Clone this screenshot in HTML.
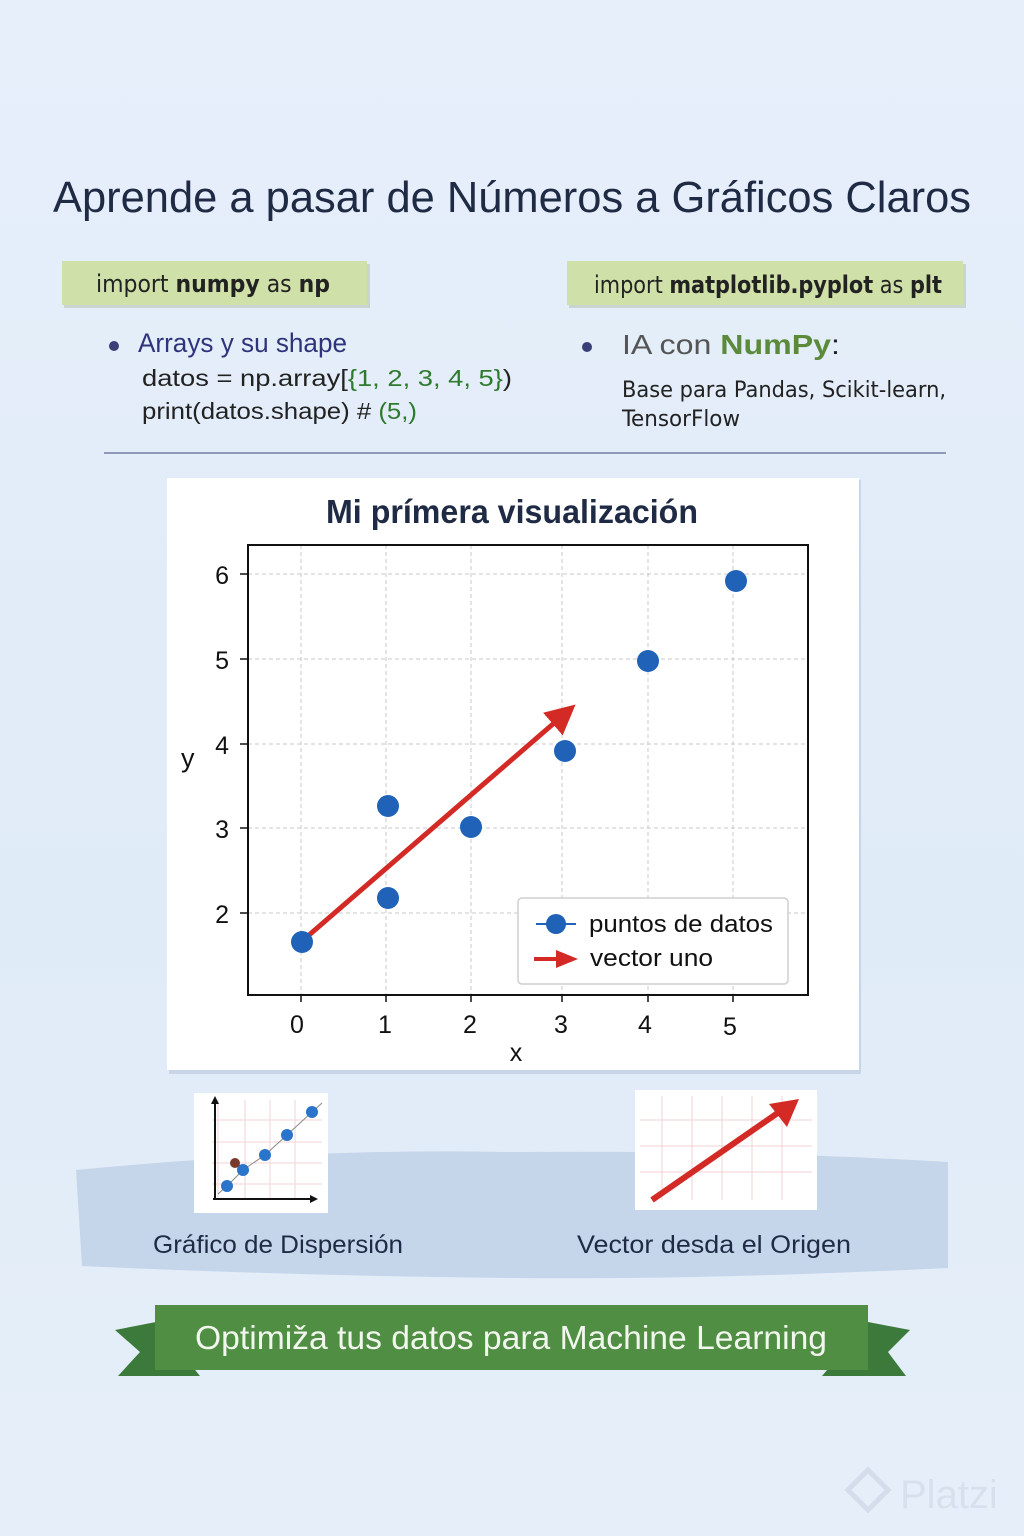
<!DOCTYPE html>
<html><head><meta charset="utf-8"><style>
html,body{margin:0;padding:0;}
body{width:1024px;height:1536px;background:linear-gradient(#e6effa,#e0ebf8 60%,#e6eff9);overflow:hidden;}
svg{display:block;font-family:"Liberation Sans","DejaVu Sans",sans-serif;}
</style></head><body>
<svg width="1024" height="1536" viewBox="0 0 1024 1536" xmlns="http://www.w3.org/2000/svg">
<defs>
<marker id="ah" markerWidth="6" markerHeight="6" refX="4" refY="3" orient="auto" markerUnits="strokeWidth">
<path d="M0,0 L6,3 L0,6 Z" fill="#d42a26"/></marker>
</defs>
<text x="512" y="212" text-anchor="middle" font-size="44" fill="#1f2a44" textLength="918" lengthAdjust="spacingAndGlyphs">Aprende a pasar de Números a Gráficos Claros</text>
<rect x="64" y="264" width="306" height="44" fill="#8a9a70" opacity="0.3"/>
<rect x="62" y="261" width="305" height="44" fill="#cfe0a8"/>
<text x="96" y="292" font-size="24" fill="#222" font-family="DejaVu Sans Condensed, Liberation Sans, sans-serif" textLength="234" lengthAdjust="spacingAndGlyphs">import <tspan font-weight="bold">numpy</tspan> as <tspan font-weight="bold">np</tspan></text>
<rect x="569" y="264" width="397" height="44" fill="#8a9a70" opacity="0.3"/>
<rect x="567" y="261" width="396" height="44" fill="#cfe0a8"/>
<text x="594" y="293" font-size="24" fill="#222" font-family="DejaVu Sans Condensed, Liberation Sans, sans-serif" textLength="348" lengthAdjust="spacingAndGlyphs">import <tspan font-weight="bold">matplotlib.pyplot</tspan> as <tspan font-weight="bold">plt</tspan></text>
<circle cx="114" cy="346" r="5" fill="#3a3f7a"/>
<text x="138" y="352" font-size="27" fill="#2e337a" textLength="209" lengthAdjust="spacingAndGlyphs">Arrays y su shape</text>
<text x="142" y="386" font-size="23" fill="#222" textLength="370" lengthAdjust="spacingAndGlyphs">datos = np.array[<tspan fill="#2e7a2e">{1, 2, 3, 4, 5}</tspan>)</text>
<text x="142" y="419" font-size="23" fill="#222" textLength="275" lengthAdjust="spacingAndGlyphs">print(datos.shape) # <tspan fill="#2e7a2e">(5,)</tspan></text>
<circle cx="587" cy="347" r="5" fill="#3a3f7a"/>
<text x="622" y="354" font-size="28" fill="#555" textLength="218" lengthAdjust="spacingAndGlyphs">IA con <tspan font-weight="bold" fill="#5b8a3a">NumPy</tspan><tspan fill="#222">:</tspan></text>
<text x="622" y="397" font-size="22" fill="#222" font-family="DejaVu Sans Condensed, Liberation Sans, sans-serif" textLength="324" lengthAdjust="spacingAndGlyphs">Base para Pandas, Scikit-learn,</text>
<text x="622" y="426" font-size="22" fill="#222" font-family="DejaVu Sans Condensed, Liberation Sans, sans-serif" textLength="118" lengthAdjust="spacingAndGlyphs">TensorFlow</text>
<line x1="104" y1="453" x2="946" y2="453" stroke="#8f9ab8" stroke-width="2"/>
<rect x="169" y="480" width="692" height="594" fill="#b8c6dc" opacity="0.6"/>
<rect x="167" y="478" width="692" height="592" fill="#ffffff"/>
<text x="512" y="523" text-anchor="middle" font-size="33" font-weight="bold" fill="#1f2a44" textLength="372" lengthAdjust="spacingAndGlyphs">Mi prímera visualización</text>
<g stroke="#c8c8c8" stroke-width="1" stroke-dasharray="4,3">
<line x1="301" y1="545" x2="301" y2="995"/><line x1="386" y1="545" x2="386" y2="995"/>
<line x1="471" y1="545" x2="471" y2="995"/><line x1="562" y1="545" x2="562" y2="995"/>
<line x1="648" y1="545" x2="648" y2="995"/><line x1="733" y1="545" x2="733" y2="995"/>
<line x1="248" y1="574" x2="808" y2="574"/><line x1="248" y1="659" x2="808" y2="659"/>
<line x1="248" y1="744" x2="808" y2="744"/><line x1="248" y1="828" x2="808" y2="828"/>
<line x1="248" y1="913" x2="808" y2="913"/>
</g>
<rect x="248" y="545" width="560" height="450" fill="none" stroke="#111" stroke-width="2"/>
<g stroke="#111" stroke-width="1.5">
<line x1="240" y1="574" x2="248" y2="574"/><line x1="240" y1="659" x2="248" y2="659"/>
<line x1="240" y1="744" x2="248" y2="744"/><line x1="240" y1="828" x2="248" y2="828"/>
<line x1="240" y1="913" x2="248" y2="913"/>
<line x1="301" y1="995" x2="301" y2="1002"/><line x1="386" y1="995" x2="386" y2="1002"/>
<line x1="471" y1="995" x2="471" y2="1002"/><line x1="562" y1="995" x2="562" y2="1002"/>
<line x1="648" y1="995" x2="648" y2="1002"/><line x1="733" y1="995" x2="733" y2="1002"/>
</g>
<g font-size="25" fill="#111" text-anchor="end">
<text x="229" y="584">6</text><text x="229" y="669">5</text><text x="229" y="754">4</text>
<text x="229" y="838">3</text><text x="229" y="923">2</text>
</g>
<text x="181" y="767" font-size="27" fill="#111">y</text>
<g font-size="25" fill="#111" text-anchor="middle">
<text x="297" y="1033">0</text><text x="385" y="1033">1</text><text x="470" y="1033">2</text>
<text x="561" y="1033">3</text><text x="645" y="1033">4</text><text x="730" y="1035">5</text>
<text x="516" y="1061">x</text>
</g>
<line x1="301" y1="942" x2="568" y2="711" stroke="#d42a26" stroke-width="5" marker-end="url(#ah)"/>
<g fill="#1f62b8">
<circle cx="302" cy="942" r="11"/><circle cx="388" cy="806" r="11"/><circle cx="388" cy="898" r="11"/>
<circle cx="471" cy="827" r="11"/><circle cx="565" cy="751" r="11"/><circle cx="648" cy="661" r="11"/>
<circle cx="736" cy="581" r="11"/>
</g>
<rect x="518" y="898" width="270" height="86" rx="4" fill="#fff" stroke="#cfcfcf" stroke-width="1.5"/>
<line x1="536" y1="924" x2="576" y2="924" stroke="#1f62b8" stroke-width="2"/>
<circle cx="556" cy="924" r="10" fill="#1f62b8"/>
<text x="589" y="932" font-size="24" fill="#111" textLength="184" lengthAdjust="spacingAndGlyphs">puntos de datos</text>
<line x1="534" y1="959" x2="560" y2="959" stroke="#d42a26" stroke-width="4"/>
<path d="M556,950 L578,959 L556,968 Z" fill="#d42a26"/>
<text x="590" y="966" font-size="24" fill="#111" textLength="123" lengthAdjust="spacingAndGlyphs">vector uno</text>
<path d="M76,1170 Q300,1148 512,1152 Q750,1150 948,1162 L948,1268 Q700,1280 512,1278 Q300,1276 82,1266 Z" fill="#c5d5ea"/>
<rect x="194" y="1093" width="134" height="120" fill="#fff"/>
<g stroke="#f0d6d6" stroke-width="1">
<line x1="218" y1="1100" x2="218" y2="1200"/><line x1="245" y1="1100" x2="245" y2="1200"/>
<line x1="270" y1="1100" x2="270" y2="1200"/><line x1="295" y1="1100" x2="295" y2="1200"/>
<line x1="212" y1="1120" x2="322" y2="1120"/><line x1="212" y1="1142" x2="322" y2="1142"/>
<line x1="212" y1="1163" x2="322" y2="1163"/><line x1="212" y1="1184" x2="322" y2="1184"/>
</g>
<line x1="215" y1="1200" x2="215" y2="1100" stroke="#111" stroke-width="2"/>
<line x1="213" y1="1199" x2="314" y2="1199" stroke="#111" stroke-width="2"/>
<path d="M211,1104 L215,1096 L219,1104Z M310,1195 L318,1199 L310,1203Z" fill="#111"/>
<polyline points="218,1194 228,1185 243,1170 265,1155 287,1135 312,1112 322,1103" fill="none" stroke="#888" stroke-width="1"/>
<g fill="#2b74cc"><circle cx="227" cy="1186" r="6"/><circle cx="243" cy="1170" r="6"/><circle cx="265" cy="1155" r="6"/><circle cx="287" cy="1135" r="6"/><circle cx="312" cy="1112" r="6"/></g>
<circle cx="235" cy="1163" r="5" fill="#7a3a2a"/>
<text x="278" y="1253" text-anchor="middle" font-size="25" fill="#1f2a44" textLength="250" lengthAdjust="spacingAndGlyphs">Gráfico de Dispersión</text>
<rect x="635" y="1090" width="182" height="120" fill="#fff"/>
<g stroke="#f0d0d6" stroke-width="1">
<line x1="662" y1="1096" x2="662" y2="1200"/><line x1="692" y1="1096" x2="692" y2="1200"/>
<line x1="722" y1="1096" x2="722" y2="1200"/><line x1="752" y1="1096" x2="752" y2="1200"/><line x1="782" y1="1096" x2="782" y2="1200"/>
<line x1="640" y1="1120" x2="812" y2="1120"/><line x1="640" y1="1146" x2="812" y2="1146"/><line x1="640" y1="1172" x2="812" y2="1172"/>
</g>
<line x1="652" y1="1200" x2="782" y2="1110" stroke="#d42a26" stroke-width="6"/>
<path d="M769,1104 L799,1099 L787,1127 Z" fill="#d42a26"/>
<text x="714" y="1253" text-anchor="middle" font-size="25" fill="#1f2a44" textLength="274" lengthAdjust="spacingAndGlyphs">Vector desda el Origen</text>
<path d="M156,1322 L115,1330 L140,1352 L118,1376 L200,1376 Z" fill="#3b7a3a"/>
<path d="M868,1322 L910,1330 L888,1352 L906,1376 L822,1376 Z" fill="#3b7a3a"/>
<rect x="155" y="1305" width="713" height="65" fill="#4f8e43"/>
<text x="511" y="1349" text-anchor="middle" font-size="33" fill="#f2f7ee" textLength="632" lengthAdjust="spacingAndGlyphs">Optimiža tus datos para Machine Learning</text>
<text x="900" y="1508" font-size="40" fill="#d4dde9" opacity="0.8">Platzi</text>
<path d="M868,1470 L888,1490 L868,1510 L848,1490 Z" fill="none" stroke="#d4dde9" stroke-width="5"/>
</svg>
</body></html>
